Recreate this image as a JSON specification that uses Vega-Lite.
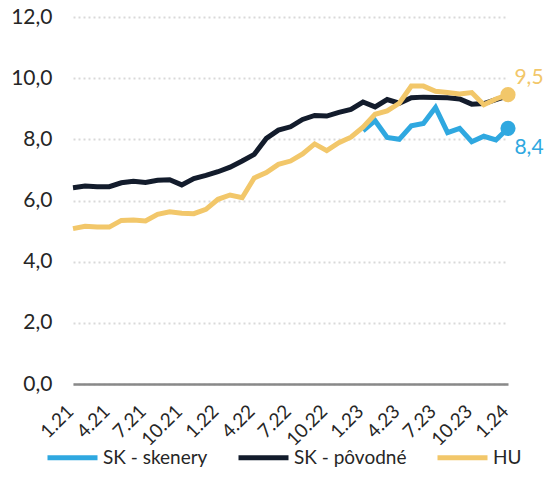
{
  "$schema": "https://vega.github.io/schema/vega-lite/v6.json",
  "width": 435,
  "height": 367,
  "autosize": {"type": "none"},
  "padding": {"left": 73, "top": 17, "right": 41, "bottom": 111},
  "background": "white",
  "config": {
    "locale": {"number": {"decimal": ",", "thousands": " ", "grouping": [3], "currency": ["", " €"]}},
    "font": "Lato",
    "view": {"stroke": null}
  },
  "datasets": {
    "d": [
      {"m": "1.23", "s": "SK - skenery", "v": 8.28},
      {"m": "2.23", "s": "SK - skenery", "v": 8.61},
      {"m": "3.23", "s": "SK - skenery", "v": 8.06},
      {"m": "4.23", "s": "SK - skenery", "v": 8.0},
      {"m": "5.23", "s": "SK - skenery", "v": 8.44},
      {"m": "6.23", "s": "SK - skenery", "v": 8.52},
      {"m": "7.23", "s": "SK - skenery", "v": 9.04},
      {"m": "8.23", "s": "SK - skenery", "v": 8.22},
      {"m": "9.23", "s": "SK - skenery", "v": 8.36},
      {"m": "10.23", "s": "SK - skenery", "v": 7.92},
      {"m": "11.23", "s": "SK - skenery", "v": 8.1},
      {"m": "12.23", "s": "SK - skenery", "v": 7.98},
      {"m": "1.24", "s": "SK - skenery", "v": 8.36},
      {"m": "1.21", "s": "SK - pôvodné", "v": 6.42},
      {"m": "2.21", "s": "SK - pôvodné", "v": 6.47},
      {"m": "3.21", "s": "SK - pôvodné", "v": 6.45},
      {"m": "4.21", "s": "SK - pôvodné", "v": 6.45},
      {"m": "5.21", "s": "SK - pôvodné", "v": 6.58},
      {"m": "6.21", "s": "SK - pôvodné", "v": 6.63},
      {"m": "7.21", "s": "SK - pôvodné", "v": 6.59},
      {"m": "8.21", "s": "SK - pôvodné", "v": 6.66},
      {"m": "9.21", "s": "SK - pôvodné", "v": 6.68},
      {"m": "10.21", "s": "SK - pôvodné", "v": 6.51},
      {"m": "11.21", "s": "SK - pôvodné", "v": 6.72},
      {"m": "12.21", "s": "SK - pôvodné", "v": 6.82},
      {"m": "1.22", "s": "SK - pôvodné", "v": 6.94},
      {"m": "2.22", "s": "SK - pôvodné", "v": 7.09},
      {"m": "3.22", "s": "SK - pôvodné", "v": 7.29},
      {"m": "4.22", "s": "SK - pôvodné", "v": 7.51},
      {"m": "5.22", "s": "SK - pôvodné", "v": 8.03},
      {"m": "6.22", "s": "SK - pôvodné", "v": 8.3},
      {"m": "7.22", "s": "SK - pôvodné", "v": 8.41},
      {"m": "8.22", "s": "SK - pôvodné", "v": 8.65},
      {"m": "9.22", "s": "SK - pôvodné", "v": 8.78},
      {"m": "10.22", "s": "SK - pôvodné", "v": 8.76},
      {"m": "11.22", "s": "SK - pôvodné", "v": 8.88},
      {"m": "12.22", "s": "SK - pôvodné", "v": 8.98},
      {"m": "1.23", "s": "SK - pôvodné", "v": 9.22},
      {"m": "2.23", "s": "SK - pôvodné", "v": 9.06},
      {"m": "3.23", "s": "SK - pôvodné", "v": 9.3},
      {"m": "4.23", "s": "SK - pôvodné", "v": 9.18},
      {"m": "5.23", "s": "SK - pôvodné", "v": 9.36},
      {"m": "6.23", "s": "SK - pôvodné", "v": 9.38},
      {"m": "7.23", "s": "SK - pôvodné", "v": 9.37},
      {"m": "8.23", "s": "SK - pôvodné", "v": 9.36},
      {"m": "9.23", "s": "SK - pôvodné", "v": 9.32},
      {"m": "10.23", "s": "SK - pôvodné", "v": 9.15},
      {"m": "11.23", "s": "SK - pôvodné", "v": 9.17},
      {"m": "12.23", "s": "SK - pôvodné", "v": 9.3},
      {"m": "1.24", "s": "SK - pôvodné", "v": 9.42},
      {"m": "1.21", "s": "HU", "v": 5.08},
      {"m": "2.21", "s": "HU", "v": 5.16},
      {"m": "3.21", "s": "HU", "v": 5.13},
      {"m": "4.21", "s": "HU", "v": 5.13},
      {"m": "5.21", "s": "HU", "v": 5.35},
      {"m": "6.21", "s": "HU", "v": 5.36},
      {"m": "7.21", "s": "HU", "v": 5.33},
      {"m": "8.21", "s": "HU", "v": 5.55},
      {"m": "9.21", "s": "HU", "v": 5.63},
      {"m": "10.21", "s": "HU", "v": 5.58},
      {"m": "11.21", "s": "HU", "v": 5.57},
      {"m": "12.21", "s": "HU", "v": 5.71},
      {"m": "1.22", "s": "HU", "v": 6.04},
      {"m": "2.22", "s": "HU", "v": 6.18},
      {"m": "3.22", "s": "HU", "v": 6.09},
      {"m": "4.22", "s": "HU", "v": 6.74},
      {"m": "5.22", "s": "HU", "v": 6.91},
      {"m": "6.22", "s": "HU", "v": 7.18},
      {"m": "7.22", "s": "HU", "v": 7.29},
      {"m": "8.22", "s": "HU", "v": 7.52},
      {"m": "9.22", "s": "HU", "v": 7.85},
      {"m": "10.22", "s": "HU", "v": 7.63},
      {"m": "11.22", "s": "HU", "v": 7.89},
      {"m": "12.22", "s": "HU", "v": 8.07},
      {"m": "1.23", "s": "HU", "v": 8.4},
      {"m": "2.23", "s": "HU", "v": 8.82},
      {"m": "3.23", "s": "HU", "v": 8.93},
      {"m": "4.23", "s": "HU", "v": 9.18},
      {"m": "5.23", "s": "HU", "v": 9.74},
      {"m": "6.23", "s": "HU", "v": 9.74},
      {"m": "7.23", "s": "HU", "v": 9.57},
      {"m": "8.23", "s": "HU", "v": 9.53},
      {"m": "9.23", "s": "HU", "v": 9.48},
      {"m": "10.23", "s": "HU", "v": 9.53},
      {"m": "11.23", "s": "HU", "v": 9.13},
      {"m": "12.23", "s": "HU", "v": 9.32},
      {"m": "1.24", "s": "HU", "v": 9.46}
    ],
    "last": [
      {"m": "1.24", "s": "SK - skenery", "v": 8.36},
      {"m": "1.24", "s": "HU", "v": 9.46}
    ]
  },
  "encoding": {
    "x": {
      "field": "m", "type": "ordinal", "sort": null,
      "scale": {"type": "point", "padding": 0,
        "domain": ["1.21","2.21","3.21","4.21","5.21","6.21","7.21","8.21","9.21","10.21","11.21","12.21","1.22","2.22","3.22","4.22","5.22","6.22","7.22","8.22","9.22","10.22","11.22","12.22","1.23","2.23","3.23","4.23","5.23","6.23","7.23","8.23","9.23","10.23","11.23","12.23","1.24"]},
      "axis": {
        "title": null,
        "values": ["1.21","4.21","7.21","10.21","1.22","4.22","7.22","10.22","1.23","4.23","7.23","10.23","1.24"],
        "labelAngle": -45, "labelAlign": "right", "labelBaseline": "middle",
        "labelFontSize": 19, "labelColor": "#262626", "labelPadding": 24, "labelOffset": -3,
        "ticks": false, "grid": false,
        "domainColor": "#898989", "domainWidth": 2.5
      }
    },
    "y": {
      "field": "v", "type": "quantitative",
      "scale": {"domain": [0, 12], "nice": false, "zero": true},
      "axis": {
        "title": null, "values": [0, 2, 4, 6, 8, 10, 12], "format": ".1f",
        "labelFontSize": 21, "labelColor": "#262626", "labelPadding": 21,
        "ticks": false, "domain": false,
        "gridColor": "#d9d9d9", "gridDash": [2, 3], "gridWidth": 2
      }
    },
    "color": {
      "field": "s", "type": "nominal",
      "scale": {"domain": ["SK - skenery", "SK - pôvodné", "HU"], "range": ["#2FA8E0", "#131C2C", "#F2C76A"]},
      "legend": {
        "title": null, "orient": "none", "direction": "horizontal",
        "legendX": -28, "legendY": 413,
        "symbolType": "stroke", "symbolStrokeWidth": 5, "symbolSize": 2500,
        "labelFontSize": 19, "labelColor": "#262626", "labelOffset": 3,
        "columnPadding": 20, "symbolOpacity": 1
      }
    }
  },
  "layer": [
    {
      "data": {"name": "d"},
      "mark": {"type": "line", "strokeWidth": 5}
    },
    {
      "data": {"name": "last"},
      "mark": {"type": "circle", "size": 230, "opacity": 1}
    },
    {
      "data": {"name": "last"},
      "transform": [{"filter": "datum.s === 'HU'"}],
      "mark": {"type": "text", "dx": 21, "dy": -17, "fontSize": 21, "align": "center", "baseline": "middle"},
      "encoding": {"text": {"field": "v", "type": "quantitative", "format": ".1f"}}
    },
    {
      "data": {"name": "last"},
      "transform": [{"filter": "datum.s === 'SK - skenery'"}],
      "mark": {"type": "text", "dx": 21, "dy": 20, "fontSize": 21, "align": "center", "baseline": "middle"},
      "encoding": {"text": {"field": "v", "type": "quantitative", "format": ".1f"}}
    }
  ]
}
